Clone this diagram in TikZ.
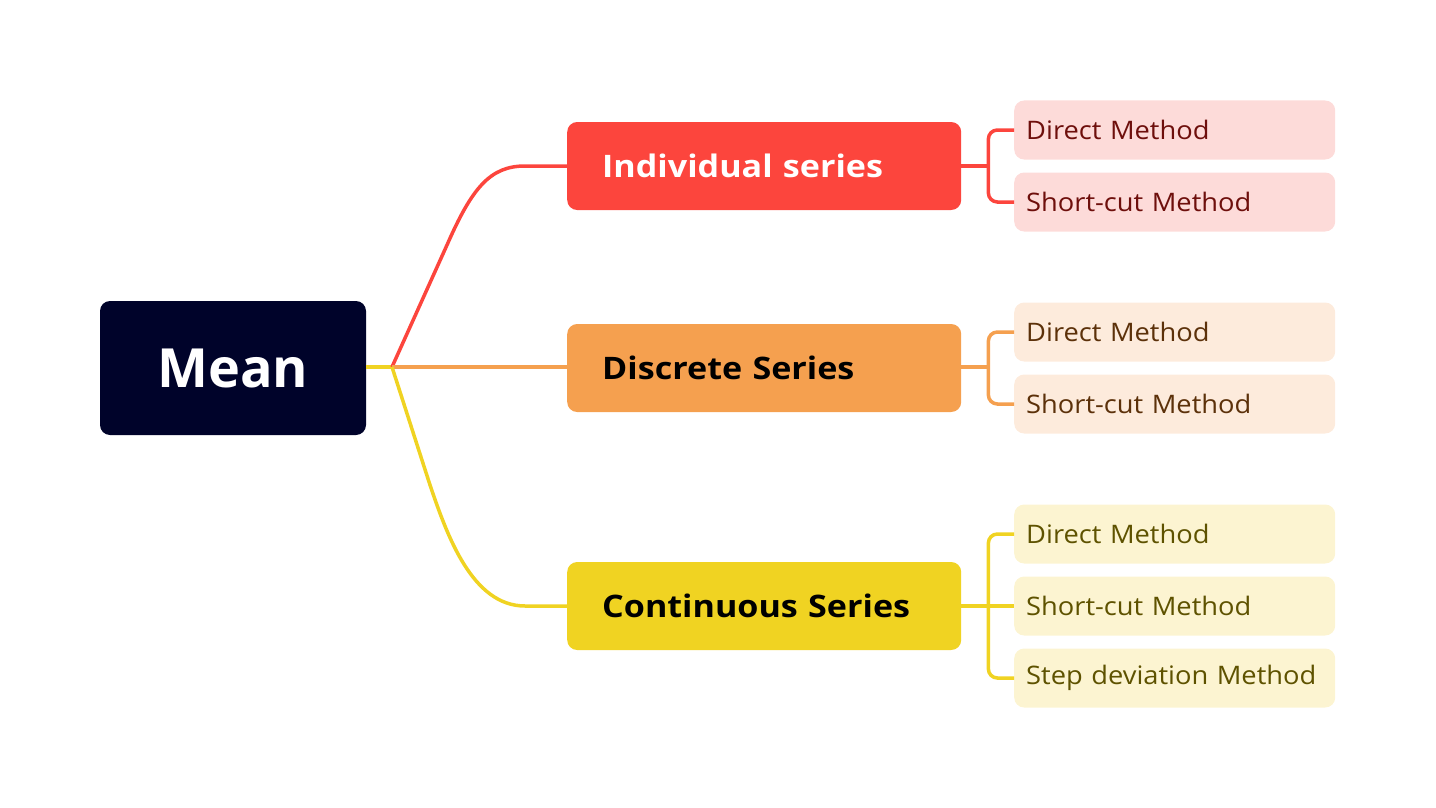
\documentclass[tikz,border=0pt]{standalone}
\usepackage{fontspec}
\setmainfont{Open Sans}
\newfontfamily\seriesfont[FakeStretch=1.1]{Open Sans}
\newfontfamily\leaffont[FakeStretch=1.07]{Open Sans}
\usetikzlibrary{calc}
\definecolor{navy}{HTML}{00032A}
\definecolor{cred}{HTML}{FC453D}
\definecolor{corange}{HTML}{F5A04F}
\definecolor{cyellow}{HTML}{F0D322}
\definecolor{lred}{HTML}{FDDBD9}
\definecolor{lorange}{HTML}{FDEBDC}
\definecolor{lyellow}{HTML}{FCF4D1}
\definecolor{tred}{HTML}{6E0F0C}
\definecolor{torange}{HTML}{5C310A}
\definecolor{tyellow}{HTML}{5E5200}
\begin{document}
\begin{tikzpicture}[x=1pt,y=-1pt,
  series/.style={rounded corners=10pt, anchor=west, minimum height=88pt, text width=324pt, inner xsep=35pt, align=left, font=\seriesfont\fontsize{31}{36}\selectfont\bfseries},
  leaf/.style={rounded corners=10pt, anchor=west, minimum height=59pt, text width=297pt, inner xsep=12pt, align=left, font=\leaffont\fontsize{25.5}{30}\selectfont},
  conn/.style={line width=3.5pt}]
\useasboundingbox (0,0) rectangle (1436,808);
\node[fill=navy, rounded corners=10pt, minimum width=266pt, minimum height=134pt, text=white, font=\fontsize{54}{60}\selectfont\bfseries] (mean) at (233,368) {Mean};
\coordinate (j) at (392,367);
\node[series, fill=cred, text=white] (s1) at (567,166) {Individual series};
\node[series, fill=corange, text=black] (s2) at (567,368) {Discrete Series};
\node[series, fill=cyellow, text=black] (s3) at (567,606) {Continuous Series};
\node[leaf, fill=lred, text=tred] (a1) at (1014,130) {Direct Method};
\node[leaf, fill=lred, text=tred] (a2) at (1014,202) {Short-cut Method};
\node[leaf, fill=lorange, text=torange] (b1) at (1014,332) {Direct Method};
\node[leaf, fill=lorange, text=torange] (b2) at (1014,404) {Short-cut Method};
\node[leaf, fill=lyellow, text=tyellow] (c1) at (1014,534) {Direct Method};
\node[leaf, fill=lyellow, text=tyellow] (c2) at (1014,606) {Short-cut Method};
\node[leaf, fill=lyellow, text=tyellow] (c3) at (1014,678) {Step deviation Method};
% main connectors
\draw[conn, cyellow] (mean.east |- j) -- (j);
\draw[conn, cred] (j) -- (447,245) .. controls (472,188) and (490,166) .. (525,166) -- (s1.west);
\draw[conn, corange] (j) -- (s2.west |- j);
\draw[conn, cyellow] (j) -- (430,485) .. controls (447,535) and (472,606) .. (525,606) -- (s3.west);
% brackets
\draw[conn, cred] (s1.east) -- ($(s1.east)+(27,0)$);
\draw[conn, cred, rounded corners=9pt] (a1.west) -| ($(s1.east)+(27,0)$) |- (a2.west);
\draw[conn, corange] (s2.east |- j) -- ($(s2.east |- j)+(27,0)$);
\draw[conn, corange, rounded corners=9pt] (b1.west) -| ($(s2.east |- j)+(27,0)$) |- (b2.west);
\draw[conn, cyellow] (s3.east) -- (c2.west);
\draw[conn, cyellow, rounded corners=9pt] (c1.west) -| ($(s3.east)+(27,0)$) |- (c3.west);
\end{tikzpicture}
\end{document}
